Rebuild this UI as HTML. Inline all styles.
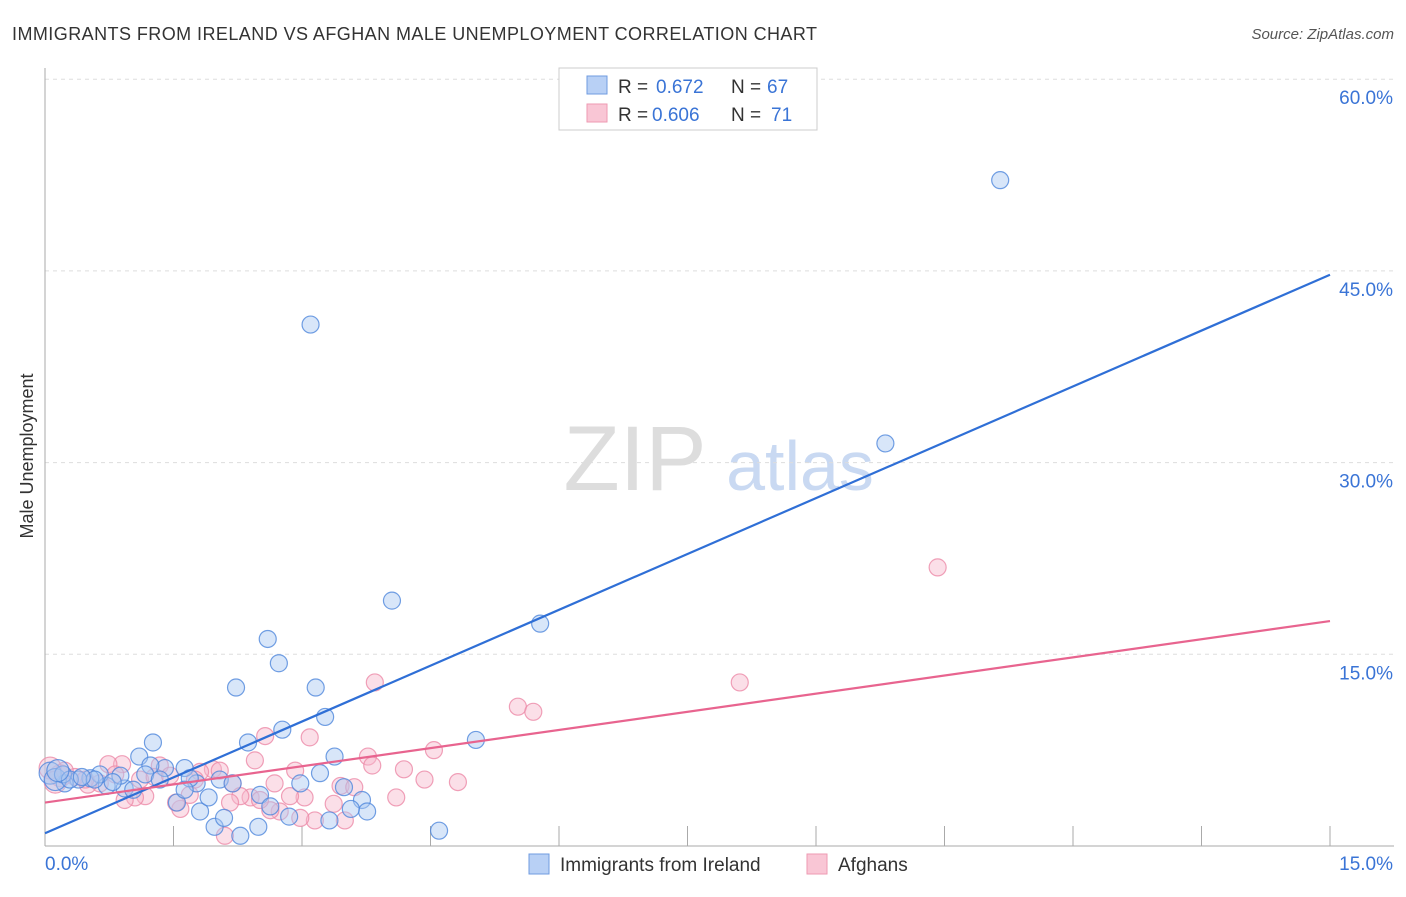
<!DOCTYPE html>
<html><head><meta charset="utf-8"><style>
body{margin:0;background:#fff;font-family:"Liberation Sans",sans-serif;}
svg text{font-family:"Liberation Sans",sans-serif;}
</style></head><body>
<svg id="c" width="1406" height="892">
<text x="12" y="40" font-size="18" fill="#333" textLength="805">IMMIGRANTS FROM IRELAND VS AFGHAN MALE UNEMPLOYMENT CORRELATION CHART</text>
<text x="1394" y="39" font-size="15" fill="#555" text-anchor="end" font-style="italic">Source: ZipAtlas.com</text>
<text transform="translate(33,456) rotate(-90)" font-size="18" fill="#333" text-anchor="middle">Male Unemployment</text>
<g><text x="635" y="490" font-size="92" fill="#ddd" font-family="Liberation Serif" text-anchor="middle">ZIP</text><text x="800" y="490" font-size="70" fill="#c9d9f2" text-anchor="middle">atlas</text></g>
<g id="grid"></g><g id="marks"></g>
<g>
<rect x="559" y="68" width="258" height="62" fill="#fff" stroke="#ccc"/>
<rect x="587" y="76" width="20" height="18" fill="#b8d0f5" stroke="#6f9be0"/>
<rect x="587" y="104" width="20" height="18" fill="#f9c6d5" stroke="#ee9ab2"/>
<text y="93" font-size="19" fill="#333"><tspan x="618">R =</tspan><tspan x="656" fill="#3a74d6">0.672</tspan><tspan x="731">N =</tspan><tspan x="767" fill="#3a74d6">67</tspan></text>
<text y="121" font-size="19" fill="#333"><tspan x="618">R =</tspan><tspan x="652" fill="#3a74d6">0.606</tspan><tspan x="731">N =</tspan><tspan x="771" fill="#3a74d6">71</tspan></text>
</g>
<g>
<rect x="529" y="854" width="20" height="20" fill="#b8d0f5" stroke="#6f9be0"/>
<text x="560" y="871" font-size="19" fill="#333">Immigrants from Ireland</text>
<rect x="807" y="854" width="20" height="20" fill="#f9c6d5" stroke="#ee9ab2"/>
<text x="838" y="871" font-size="19" fill="#333">Afghans</text>
</g>
</svg>
<script>
const yTicks=[15,30,45,60];
const yTickLabels=["15.0%","30.0%","45.0%","60.0%"];
const xTickVals=[0,1.5,3,4.5,6,7.5,9,10.5,12,13.5,15];
const xEndLabels=["0.0%","15.0%"];
const blueX=[11.15,3.10,9.81,4.05,5.78,2.60,2.73,2.23,3.16,3.27,2.77,2.37,1.26,5.03,3.38,1.10,3.21,2.98,3.49,3.70,3.76,3.57,2.85,3.32,4.60,2.49,2.28,1.98,2.09,1.81,1.54,1.91,1.77,1.63,1.40,1.23,2.04,2.19,2.51,2.63,0.93,1.03,0.72,0.64,0.53,0.39,0.23,0.06,0.12,0.88,1.17,1.34,1.69,0.21,0.29,1.63,0.79,0.58,0.15,0.43];
const blueY=[52.1,40.8,31.5,19.2,17.4,16.2,14.3,12.4,12.4,10.1,9.1,8.1,8.1,8.3,7.0,7.0,5.7,4.9,4.6,3.6,2.7,2.9,2.3,2.0,1.2,1.5,0.8,1.5,2.2,2.7,3.4,3.8,4.9,6.1,6.1,6.3,5.2,4.9,4.0,3.1,4.5,4.4,4.7,5.6,5.3,5.2,4.9,5.7,5.2,5.5,5.6,5.2,5.3,5.6,5.2,4.4,5.0,5.2,5.9,5.4];
const pinkX=[10.42,8.11,3.85,5.52,5.70,3.09,2.57,4.54,3.77,2.45,3.82,4.19,2.92,4.43,4.82,3.45,3.61,2.68,2.19,4.10,3.37,3.03,2.86,3.50,3.15,2.98,2.74,2.63,2.40,2.28,2.10,1.96,2.04,1.81,1.69,1.58,1.53,1.34,1.17,1.05,0.90,0.74,0.82,0.64,0.50,0.35,0.18,0.06,0.12,0.23,1.11,1.28,1.46,1.75,2.16,2.51,0.93,0.47];
const pinkY=[21.8,12.8,12.8,10.9,10.5,8.5,8.6,7.5,7.0,6.7,6.3,6.0,5.9,5.2,5.0,4.7,4.6,4.9,4.9,3.8,3.3,3.8,3.9,2.0,2.0,2.2,2.7,2.8,3.8,3.9,0.8,6.0,5.9,5.8,4.0,2.9,3.4,6.3,3.9,3.8,6.4,6.4,5.6,4.9,4.8,5.4,5.5,6.1,5.0,5.9,5.2,5.4,5.5,5.2,3.4,3.6,3.6,5.2];
const blueTrend=[1.0,44.7];
const pinkTrend=[3.4,17.6];
const NS="http://www.w3.org/2000/svg";
const X0=45,X1=1330,Y0=846,YS=191.7/15;
const sx=v=>X0+(X1-X0)*v/15, sy=v=>Y0-v*YS;
function mk(t,a,p){const e=document.createElementNS(NS,t);for(const k in a)e.setAttribute(k,a[k]);p.appendChild(e);return e;}
const g=document.getElementById('grid'),m=document.getElementById('marks');
yTicks.forEach((t,i)=>{
 const l=mk('line',{x1:X0,x2:1394,y1:sy(t),y2:sy(t),stroke:'#ddd','stroke-dasharray':'4,4'},g);
 
 
 const tx=mk('text',{x:1393,y:sy(t)+25,'font-size':19,fill:'#3a74d6','text-anchor':'end'},g);
 tx.textContent=yTickLabels[i];
 
 
});
const ax=mk('line',{x1:X0,x2:X0,y1:68,y2:Y0,stroke:'#aaa'},g);


const bx=mk('line',{x1:X0,x2:1394,y1:Y0,y2:Y0,stroke:'#aaa'},g);


xTickVals.forEach(v=>{
 const l=mk('line',{x1:sx(v),x2:sx(v),y1:826,y2:Y0,stroke:'#aaa'},g);
 
 
});
const xl0=mk('text',{x:45,y:870,'font-size':19,fill:'#3a74d6'},g);xl0.textContent=xEndLabels[0];


const xl1=mk('text',{x:1393,y:870,'font-size':19,fill:'#3a74d6','text-anchor':'end'},g);xl1.textContent=xEndLabels[1];


function pts(xs,ys,fill,stroke,name){xs.forEach((x,i)=>{
 const c=mk('circle',{cx:sx(x),cy:sy(ys[i]),r:(x<0.2?11:8.5),fill:fill,'fill-opacity':0.45,stroke:stroke,'stroke-opacity':0.8,'stroke-width':1.2},m);
 
 
});}
pts(pinkX,pinkY,'#f7b8cb','#ec8aa8','afghans-point');
pts(blueX,blueY,'#a9c7f2','#4f87dc','ireland-point');
const bl=mk('line',{x1:sx(0),y1:sy(blueTrend[0]),x2:sx(15),y2:sy(blueTrend[1]),stroke:'#2f6fd6','stroke-width':2.2},m);


const pl=mk('line',{x1:sx(0),y1:sy(pinkTrend[0]),x2:sx(15),y2:sy(pinkTrend[1]),stroke:'#e8648f','stroke-width':2.2},m);


</script>
</body></html>
